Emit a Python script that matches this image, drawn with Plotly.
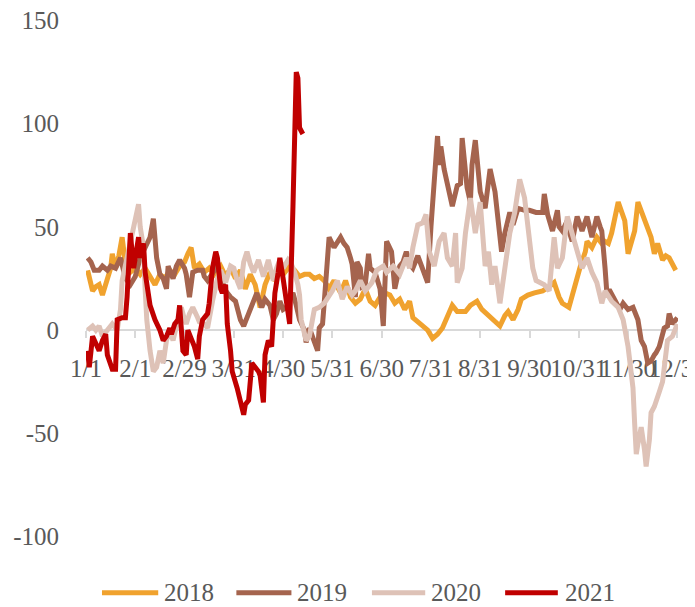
import plotly.graph_objects as go

# x positions: day offsets on a 360-unit year axis (30 units per label interval)
tick_days = [0, 30, 60, 90, 120, 150, 180, 210, 240, 270, 300, 330, 360]
tick_labels = ["1/1", "2/1", "2/29", "3/31", "4/30", "5/31", "6/30",
               "7/31", "8/31", "9/30", "10/31", "11/30", "12/31"]
y_ticks = [-100, -50, 0, 50, 100, 150]
y_labels = ["-100", "-50", "0", "50", "100", "150"]

d_2018 = [1, 4, 6, 8, 10, 13, 15, 16, 18, 20, 22, 24, 27, 30, 33, 36, 39, 42, 45, 48,
          51, 54, 57, 60, 62, 64, 66, 69, 72, 75, 78, 82, 85, 88, 91, 94, 97, 100, 103, 106,
          109, 112, 115, 118, 121, 124, 127, 130, 133, 136, 139, 142, 145, 148, 151, 155, 158, 161, 164, 167,
          170, 173, 176, 179, 182, 185, 188, 191, 194, 197, 199, 202, 205, 208, 211, 214, 217, 220, 223, 226,
          231, 234, 238, 241, 245, 248, 252, 255, 257, 260, 263, 265, 269, 273, 278, 282, 285, 288, 290, 294,
          297, 301, 304, 305, 308, 311, 314, 316, 318, 320, 324, 326, 328, 330, 332, 334, 336, 339, 342, 344,
          346, 348, 351, 353, 355, 357, 359]
v_2018 = [29, 19, 21, 22, 17, 25, 30, 37, 30, 36, 45, 32, 28, 30, 27, 30, 26, 22, 27, 25,
          29, 27, 31, 33, 37, 40, 30, 32, 28, 30, 27, 31, 26, 30, 25, 29, 20, 27, 22, 11,
          22, 28, 24, 30, 28, 31, 29, 26, 27, 27, 25, 26, 24, 20, 24, 18, 24, 16, 13, 15,
          20, 14, 12, 16, 18, 17, 13, 15, 10, 14, 6, 4, 2, 0, -4, -2, 1, 6, 12, 9,
          9, 12, 14, 10, 7, 5, 2, 7, 9, 5, 10, 15, 17, 18, 19, 21, 23, 16, 13, 11,
          20, 31, 38, 43, 40, 45, 42, 43, 42, 47, 62, 57, 53, 37, 42, 48, 62, 56, 50, 45,
          37, 42, 34, 36, 35, 32, 29]

d_2019 = [1, 3, 5, 8, 10, 13, 15, 18, 21, 24, 27, 30, 33, 36, 39, 41, 43, 45, 47, 49,
          50, 53, 55, 57, 60, 61, 63, 65, 68, 71, 72, 74, 77, 80, 82, 85, 88, 91, 94, 96,
          99, 101, 104, 107, 109, 112, 114, 116, 118, 120, 122, 124, 126, 128, 130, 133, 134, 136, 138, 141,
          142, 144, 145, 147, 148, 151, 155, 157, 159, 161, 162, 164, 165, 167, 168, 170, 172, 173, 176, 179,
          181, 183, 186, 188, 191, 193, 195, 197, 199, 202, 205, 208, 210, 212, 214, 215, 216, 218, 220, 221,
          223, 226, 228, 229, 232, 234, 235, 237, 240, 243, 246, 249, 251, 253, 255, 258, 260, 263, 267, 270,
          274, 278, 279, 281, 284, 287, 288, 290, 293, 294, 296, 299, 302, 305, 308, 311, 313, 314, 316, 317,
          319, 322, 325, 327, 330, 333, 336, 338, 340, 342, 344, 346, 347, 349, 350, 352, 354, 355, 357, 359, 360]
v_2019 = [35, 33, 29, 29, 31, 29, 31, 30, 35, 25, 22, 26, 35, 40, 45, 54, 35, 27, 25, 20,
          31, 25, 31, 34, 30, 27, 16, 28, 29, 29, 26, 24, 28, 31, 26, 19, 16, 14, 5, 2,
          8, 12, 18, 11, 15, 12, 5, 8, 14, 10, 11, 15, 18, 12, 5, 0, -6, 1, -3, -10,
          1, 3, 13, 35, 45, 40, 45, 42, 40, 35, 32, 16, 33, 30, 21, 22, 37, 30, 28, 20,
          2, 43, 38, 20, 31, 33, 38, 32, 30, 36, 30, 23, 50, 75, 94, 80, 89, 78, 70, 65,
          60, 70, 71, 93, 69, 62, 80, 92, 67, 59, 78, 67, 50, 38, 47, 57, 51, 59, 58, 58,
          57, 57, 66, 56, 48, 58, 50, 48, 53, 48, 43, 55, 48, 55, 45, 55, 50, 48, 30, 19,
          19, 14, 10, 13, 10, 11, 5, -5, -8, -16, -15, -12, -11, -8, -5, 1, 2, 8, 3, 5, 6]

d_2020 = [1, 4, 6, 8, 10, 13, 16, 19, 21, 22, 25, 27, 30, 32, 33, 35, 36, 37, 39, 41,
          43, 45, 47, 49, 51, 53, 56, 58, 60, 61, 63, 65, 68, 69, 72, 74, 77, 80, 82, 85,
          88, 90, 92, 94, 96, 98, 100, 102, 105, 108, 111, 114, 116, 118, 120, 123, 125, 127, 129, 130,
          131, 133, 134, 136, 138, 139, 142, 145, 150, 153, 156, 159, 162, 164, 167, 170, 174, 177, 181, 183,
          187, 191, 193, 195, 197, 199, 202, 205, 207, 209, 212, 215, 218, 220, 223, 225, 226, 229, 231, 234,
          237, 240, 243, 245, 247, 249, 252, 255, 258, 261, 264, 267, 270, 272, 274, 279, 282, 285, 287, 290,
          293, 296, 299, 302, 305, 308, 311, 314, 316, 320, 324, 327, 330, 332, 333, 334, 335, 336, 338, 340,
          341, 343, 344, 346, 348, 349, 351, 352, 354, 357, 359, 360]
v_2020 = [0, 2, 0, 2, -3, 0, 3, 0, 10, 24, 35, 44, 55, 61, 50, 40, 20, 5, -10, -20,
          -18, -10, -16, -5, 0, -5, 5, 11, 5, 3, 8, 11, 6, 4, 3, 1, 14, 25, 29, 23,
          31, 30, 24, 20, 33, 38, 32, 28, 34, 26, 34, 24, 30, 34, 30, 34, 32, 28, 22, 17,
          5, -3, -5, -3, 5, 10, 11, 13, 19, 24, 15, 21, 17, 19, 24, 19, 23, 29, 31, 28,
          31, 27, 31, 35, 30, 40, 51, 52, 56, 38, 31, 43, 47, 35, 31, 47, 23, 30, 47, 64,
          47, 62, 31, 38, 22, 31, 13, 31, 47, 57, 73, 64, 45, 30, 24, 22, 19, 45, 30, 35,
          55, 47, 37, 30, 35, 28, 23, 13, 19, 14, 11, 5, -8, -20, -28, -45, -60, -55, -47, -58,
          -66, -53, -40, -37, -33, -30, -25, -18, -5, -3, 1, 3]

d_2021 = [1, 2, 4, 7, 8, 10, 12, 13, 15, 16, 18, 19, 22, 24, 25, 27, 29, 30, 32, 33,
          35, 36, 39, 42, 45, 47, 49, 51, 52, 54, 56, 57, 59, 61, 62, 64, 66, 68, 69, 71,
          74, 75, 77, 79, 80, 82, 83, 85, 86, 88, 89, 92, 94, 96, 97, 99, 101, 103, 105, 106,
          108, 109, 111, 113, 114, 115, 117, 118, 120, 121, 123, 124, 126, 128, 129, 130, 132]
v_2021 = [-10, -18, -3, -8, -10, -5, -2, -12, -17, -19, -19, 5, 6, 6, 16, 47, 30, 35, 45, 35,
          42, 28, 12, 5, 0, -5, -3, 1, -2, 3, 5, 12, -10, -12, 0, -4, -8, -14, -3, 5,
          8, 13, 30, 38, 35, 20, 18, 22, 3, -10, -20, -28, -35, -41, -36, -34, -16, -18, -20, -22,
          -35, -12, -5, -8, 5, 18, 28, 35, 25, 20, 8, 3, 60, 125, 122, 98, 95]

series = [
    ("2018", d_2018, v_2018, "#F0A22E"),
    ("2019", d_2019, v_2019, "#A5644E"),
    ("2020", d_2020, v_2020, "#DEC2B7"),
    ("2021", d_2021, v_2021, "#C00000"),
]

FONT = "Liberation Serif"
GREY = "#595959"

fig = go.Figure()
for name, d, v, c in series:
    fig.add_trace(go.Scatter(x=d, y=v, mode="lines", name=name,
                             line=dict(color=c, width=5), showlegend=False))

# custom legend (long line samples like the reference)
leg_y = -0.108
leg_items = [(0.027, 0.122, 0.128), (0.254, 0.347, 0.353), (0.483, 0.573, 0.58), (0.708, 0.797, 0.805)]
for (name, d, v, c), (x0, x1, xt) in zip(series, leg_items):
    fig.add_shape(type="line", xref="paper", yref="paper", x0=x0, x1=x1, y0=leg_y, y1=leg_y,
                  line=dict(color=c, width=5))
    fig.add_annotation(xref="paper", yref="paper", x=xt, y=leg_y, text=name, showarrow=False,
                       xanchor="left", yanchor="middle",
                       font=dict(family=FONT, size=25, color=GREY))

fig.update_layout(
    width=695, height=607,
    margin=dict(l=78, r=25, t=12, b=78),
    paper_bgcolor="white", plot_bgcolor="white",
    font=dict(family=FONT, size=25, color=GREY),
    xaxis=dict(range=[0, 360.4], tickvals=tick_days, ticktext=tick_labels, tickangle=0,
               anchor="free", position=0.4, showgrid=False, zeroline=False,
               showline=True, linecolor="#D9D9D9", linewidth=2,
               ticks="outside", ticklen=7, tickcolor="#D9D9D9", tickwidth=2,
               ticklabelstandoff=9, ticklabeloverflow="allow",
               layer="below traces", automargin=False,
               tickfont=dict(family=FONT, size=25, color=GREY)),
    yaxis=dict(range=[-100.2, 150.2], tickvals=y_ticks, ticktext=y_labels,
               showgrid=False, zeroline=False, showline=False, ticks="",
               ticklabelstandoff=26, ticklabeloverflow="allow", automargin=False,
               tickfont=dict(family=FONT, size=25, color=GREY)),
)

fig.write_html("out.html")
